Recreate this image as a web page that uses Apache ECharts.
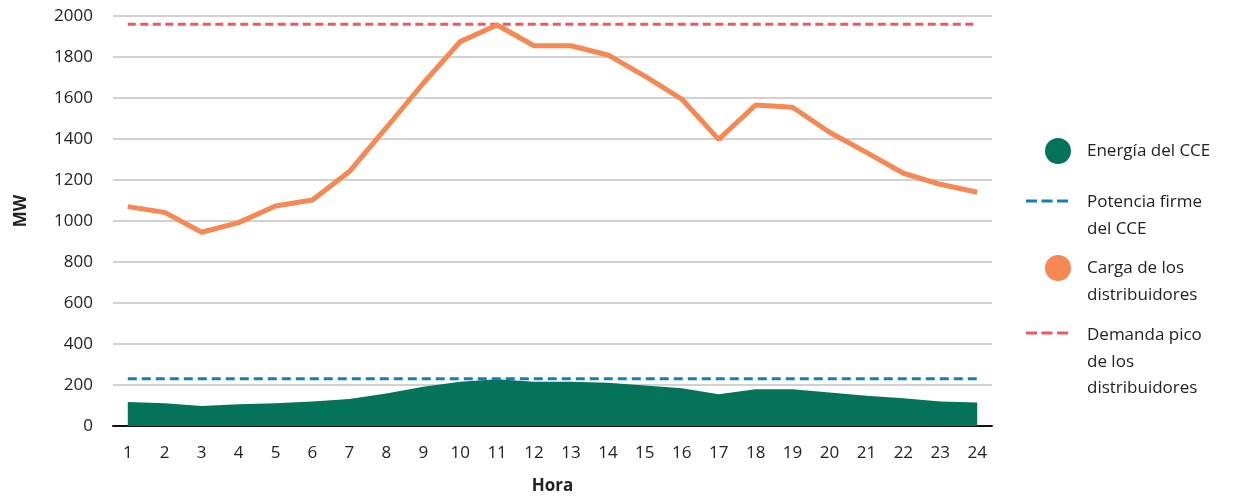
<!DOCTYPE html>
<html>
<head>
<meta charset="utf-8">
<script src="https://cdn.jsdelivr.net/npm/echarts@6/dist/echarts.min.js"></script>
<style>html,body{margin:0;padding:0;background:#fff}#c{width:1241px;height:497px}</style>
</head>
<body>
<div id="c"></div>
<script>
const hours = [1,2,3,4,5,6,7,8,9,10,11,12,13,14,15,16,17,18,19,20,21,22,23,24];
const energiaCCE = [117,111,98,106,111,120,132,159,192,216,228,216,216,211,197,184,155,179,179,163,148,135,119,115];
const cargaDistribuidores = [1070,1042,945,992,1073,1102,1241,1455,1672,1875,1956,1855,1855,1810,1707,1595,1398,1566,1555,1433,1335,1233,1179,1140];
const potenciaFirme = 230;
const demandaPico = 1960;
const yTicks = [0,200,400,600,800,1000,1200,1400,1600,1800,2000];
const seriesNames = ['Energía del CCE','Potencia firme del CCE','Carga de los distribuidores','Demanda pico de los distribuidores'];
const legendLabels = ['Energía del CCE','Potencia firme\ndel CCE','Carga de los\ndistribuidores','Demanda pico\nde los\ndistribuidores'];

const C_GREEN = '#04735A', C_BLUE = '#157DB8', C_ORANGE = '#F58853', C_RED = '#F0585E';
const FONT = '"Open Sans"';
const pairs = arr => hours.map((h,i)=>[h,arr[i]]);
const flat = v => hours.map(h=>[h,v]);

const chart = echarts.init(document.getElementById('c'));

function dashes(x0, y, color){
  const out=[]; const w=11, g=4.5;
  for(let k=0;k<3;k++) out.push({type:'rect',shape:{x:x0+k*(w+g),y:y-1.5,width:w,height:3},style:{fill:color}});
  return out;
}
function legText(x, yFirst, txt){
  return {type:'text',x:x,y:yFirst-13,style:{text:txt,font:'17px '+FONT,fill:'#222',lineHeight:26.5,verticalAlign:'top'}};
}

chart.setOption({
  animation:false,
  textStyle:{fontFamily:FONT},
  grid:{left:113,right:249,top:16,bottom:71,outerBoundsMode:'none',containLabel:false},
  xAxis:{
    type:'value',min:0.6,max:24.4,
    name:'Hora',nameLocation:'middle',nameGap:52,
    nameTextStyle:{fontSize:17,fontWeight:'bold',color:'#222',fontFamily:FONT},
    axisLine:{show:true,onZero:false,lineStyle:{color:'#111',width:2}},
    axisTick:{show:false},
    splitLine:{show:false},
    axisLabel:{customValues:hours,fontSize:17,color:'#222',margin:19,fontFamily:FONT}
  },
  yAxis:{
    type:'value',min:0,max:2000,interval:200,
    name:'MW',nameLocation:'middle',nameGap:83,
    nameTextStyle:{fontSize:17,fontWeight:'bold',color:'#222',fontFamily:FONT,padding:[0,0,0,20]},
    axisLine:{show:false},axisTick:{show:false},
    splitLine:{lineStyle:{color:'#c2c2c2',width:1.5}},
    axisLabel:{fontSize:17,color:'#222',margin:20,fontFamily:FONT,formatter:v=>String(v)}
  },
  series:[
    {name:seriesNames[0],type:'line',data:pairs(energiaCCE),symbol:'none',
     lineStyle:{width:0},areaStyle:{color:C_GREEN,opacity:1},itemStyle:{color:C_GREEN},z:1},
    {name:seriesNames[1],type:'line',data:flat(potenciaFirme),symbol:'none',
     lineStyle:{color:C_BLUE,width:3,type:[9,5]},itemStyle:{color:C_BLUE},z:3},
    {name:seriesNames[2],type:'line',data:pairs(cargaDistribuidores),symbol:'none',
     lineStyle:{color:C_ORANGE,width:5},itemStyle:{color:C_ORANGE},z:4},
    {name:seriesNames[3],type:'line',data:flat(demandaPico),symbol:'none',
     lineStyle:{color:C_RED,width:3,type:[8,4.5]},itemStyle:{color:C_RED},z:3}
  ],
  graphic:[
    {type:'circle',shape:{cx:1058,cy:151,r:13},style:{fill:C_GREEN}},
    legText(1087,151,legendLabels[0]),
    ...dashes(1026,201,C_BLUE),
    legText(1087,202,legendLabels[1]),
    {type:'circle',shape:{cx:1058,cy:268,r:13},style:{fill:C_ORANGE}},
    legText(1087,268,legendLabels[2]),
    ...dashes(1026,333,C_RED),
    legText(1087,335,legendLabels[3])
  ]
});
</script>
</body>
</html>
